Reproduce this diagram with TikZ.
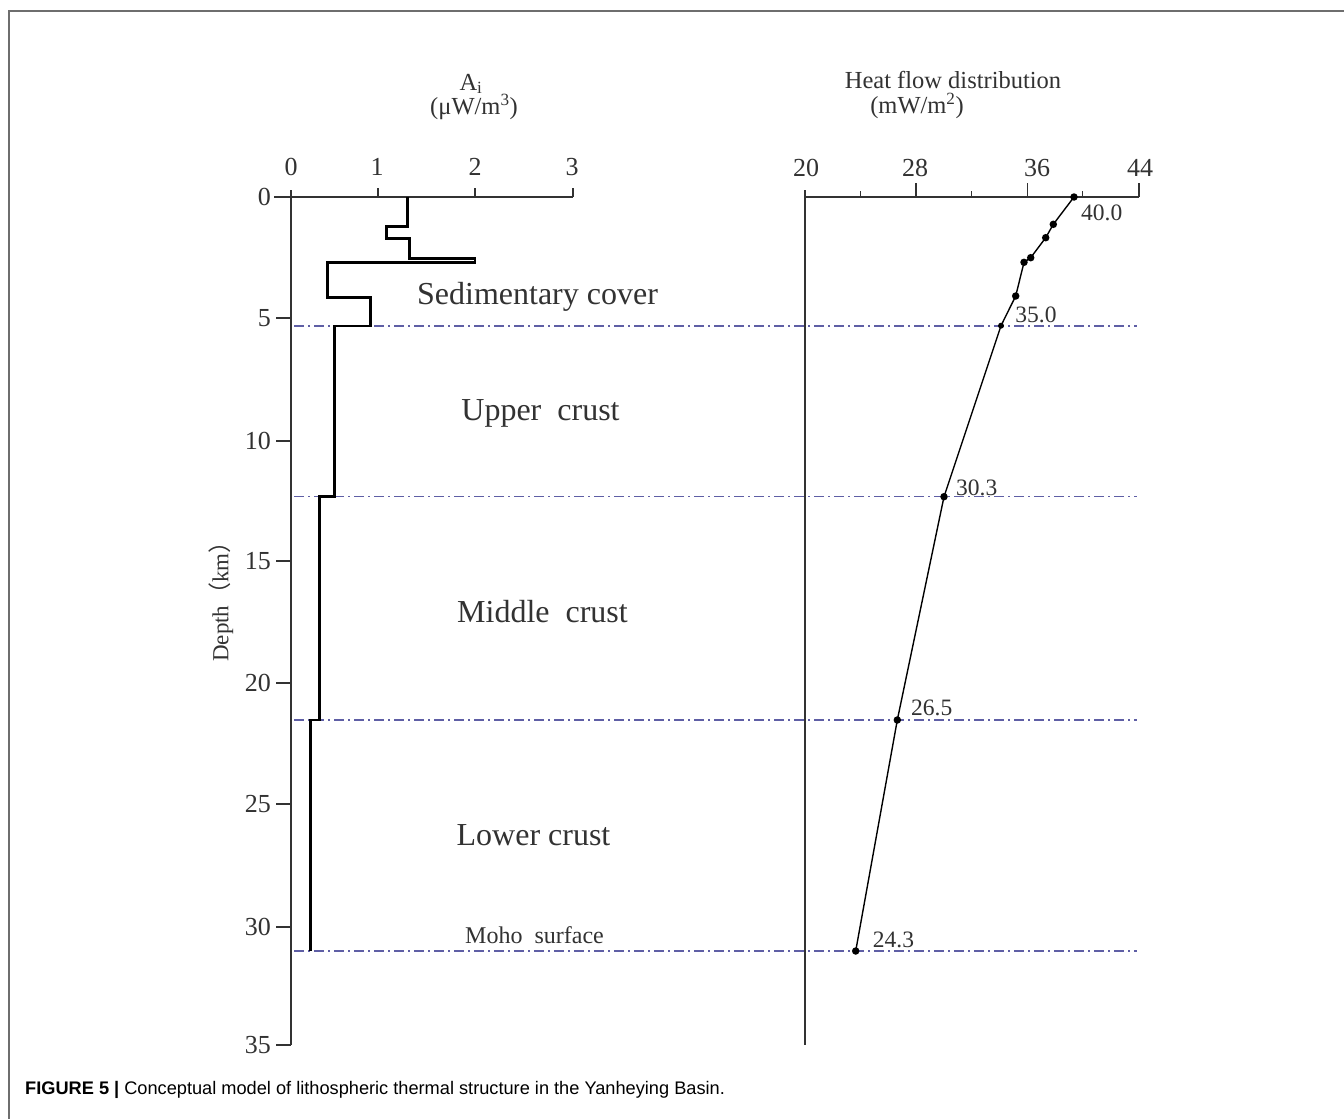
\documentclass[tikz,border=0pt]{standalone}
\usepackage{fontspec}
\setmainfont{Liberation Serif}
\newfontfamily\capfont{Liberation Sans}
\newfontfamily\cjkfont{Noto Sans CJK SC}
\definecolor{axisgray}{RGB}{50,50,50}
\definecolor{dashblue}{RGB}{95,95,165}
\definecolor{framegray}{RGB}{110,110,110}
\begin{document}
\begin{tikzpicture}[x=1pt,y=-1pt,
  axis/.style={draw=axisgray,line width=1.4pt},
  tickline/.style={draw=axisgray,line width=1.4pt},
  bound/.style={draw=dashblue,line width=1.4pt,dash pattern=on 10pt off 4pt on 2pt off 4pt},
  ticklbl/.style={font=\fontsize{26}{28}\selectfont,text=axisgray,inner sep=0pt},
  unitlbl/.style={font=\fontsize{24.5}{26}\selectfont,text=axisgray,inner sep=0pt},
  layerlbl/.style={font=\fontsize{32}{34}\selectfont,text=axisgray,inner sep=0pt},
  vallbl/.style={font=\fontsize{23.5}{25}\selectfont,text=axisgray,inner sep=0pt},
  step curve/.style={draw=black,line width=2.8pt,line join=miter},
  hfcurve/.style={draw=black,line width=1.4pt},
  dot/.style={circle,fill=black,inner sep=0pt,minimum size=7.5pt}
]
\useasboundingbox (0,0) rectangle (1344,1119);
\fill[white] (0,0) rectangle (1344,1119);
% frame
\draw[framegray,line width=1.2pt] (9,1119) -- (9,11) -- (1344,11);

% ---------- left panel axes ----------
\draw[axis] (291,190) -- (291,1045);
\draw[axis] (274,197) -- (573,197);
\foreach \x in {378,475,573} \draw[tickline] (\x,197) -- (\x,188);
\foreach \d/\y in {0/197,5/318,10/441,15/561,20/683,25/804,30/927,35/1045}{
  \draw[tickline] (276,\y) -- (291,\y);
  \node[ticklbl,anchor=east] (d\d) at (271,\y) {\d};
}
\foreach \v/\x in {0/291,1/377,2/475,3/572}
  \node[ticklbl] (a\v) at (\x,167) {\v};
\node[unitlbl] (Ai) at (471,84) {A\textsubscript{i}};
\node[unitlbl] (Aunit) at (474,107) {(μW/m\textsuperscript{3})};
\node[font=\fontsize{23}{25}\selectfont,text=axisgray,inner sep=0pt,rotate=90] (depth) at (221,596)
  {Depth{\cjkfont （}km{\cjkfont ）}};

% ---------- right panel axes ----------
\draw[axis] (805,190) -- (805,1045);
\draw[axis] (805,197) -- (1139,197);
\foreach \x in {916,1027.7,1139} \draw[tickline] (\x,197) -- (\x,183);
\foreach \x in {860.7,971.7,1082.7} \draw[tickline] (\x,197) -- (\x,191);
\foreach \v/\x in {20/806,28/915,36/1037,44/1140}
  \node[ticklbl] (h\v) at (\x,168) {\v};
\node[unitlbl] (hft) at (953,80) {Heat flow distribution};
\node[unitlbl] (hfu) at (917,106) {(mW/m\textsuperscript{2})};

% ---------- boundaries ----------
\coordinate (b1l) at (294,326);   \coordinate (b1r) at (1137,326);
\coordinate (b2l) at (294,496.5); \coordinate (b2r) at (1137,496.5);
\coordinate (b3l) at (294,720);   \coordinate (b3r) at (1137,720);
\coordinate (b4l) at (294,951);   \coordinate (b4r) at (1137,951);
\draw[bound] (b1l) -- (b1r);
\draw[bound] (b2l) -- (b2r);
\draw[bound] (b3l) -- (b3r);
\draw[bound] (b4l) -- (b4r);

% ---------- heat production step curve ----------
\draw[step curve] (407.7,197) -- (407.7,226.7) -- (386.7,226.7) -- (386.7,238.3)
  -- (409.3,238.3) -- (409.3,258.3) -- (475,258.3) -- (475,262.3) -- (327.7,262.3)
  -- (327.7,297.3) -- (370.7,297.3) -- (370.7,326) -- (334.5,326) -- (334.5,496.5)
  -- (319.3,496.5) -- (319.3,720) -- (310.5,720) -- (310.5,951);

% ---------- layer labels ----------
\node[layerlbl] (sed) at (537.5,297) {Sedimentary cover};
\node[layerlbl] (upc) at (540.5,413) {Upper\ \ crust};
\node[layerlbl] (midc) at (542.5,612) {Middle\ \ crust};
\node[layerlbl] (lowc) at (533.5,835) {Lower\ crust};
\node[font=\fontsize{24}{26}\selectfont,text=axisgray,inner sep=0pt] (moho) at (534.5,935) {Moho\ \ surface};

% ---------- heat flow curve ----------
\node[dot] (p1) at (1074,197) {};
\node[dot] (p2) at (1053.3,224.3) {};
\node[dot] (p3) at (1045.7,237.7) {};
\node[dot] (p4) at (1030.7,257.7) {};
\node[dot] (p5) at (1024,262.3) {};
\node[dot] (p6) at (1015.7,296) {};
\node[dot,minimum size=6pt] (p7) at (1001,325.7) {};
\node[dot] (p8) at (944,496.7) {};
\node[dot] (p9) at (897.3,720) {};
\node[dot] (p10) at (855.7,951) {};
\draw[hfcurve] (p1.center) -- (p2.center) -- (p3.center) -- (p4.center) -- (p5.center)
  -- (p6.center) -- (p7.center) -- (p8.center) -- (p9.center) -- (p10.center);

\node[vallbl] (v40) at (1101.7,213) {40.0};
\node[vallbl] (v35) at (1036,315) {35.0};
\node[vallbl] (v30) at (976.7,488) {30.3};
\node[vallbl] (v26) at (931.7,708) {26.5};
\node[vallbl] (v24) at (893.5,940) {24.3};

% ---------- caption ----------
\node[anchor=west,inner sep=0pt,font=\capfont\fontsize{18.2}{21}\selectfont] (cap) at (25,1090)
  {\textbf{FIGURE 5 |} Conceptual model of lithospheric thermal structure in the Yanheying Basin.};
\end{tikzpicture}
\end{document}
